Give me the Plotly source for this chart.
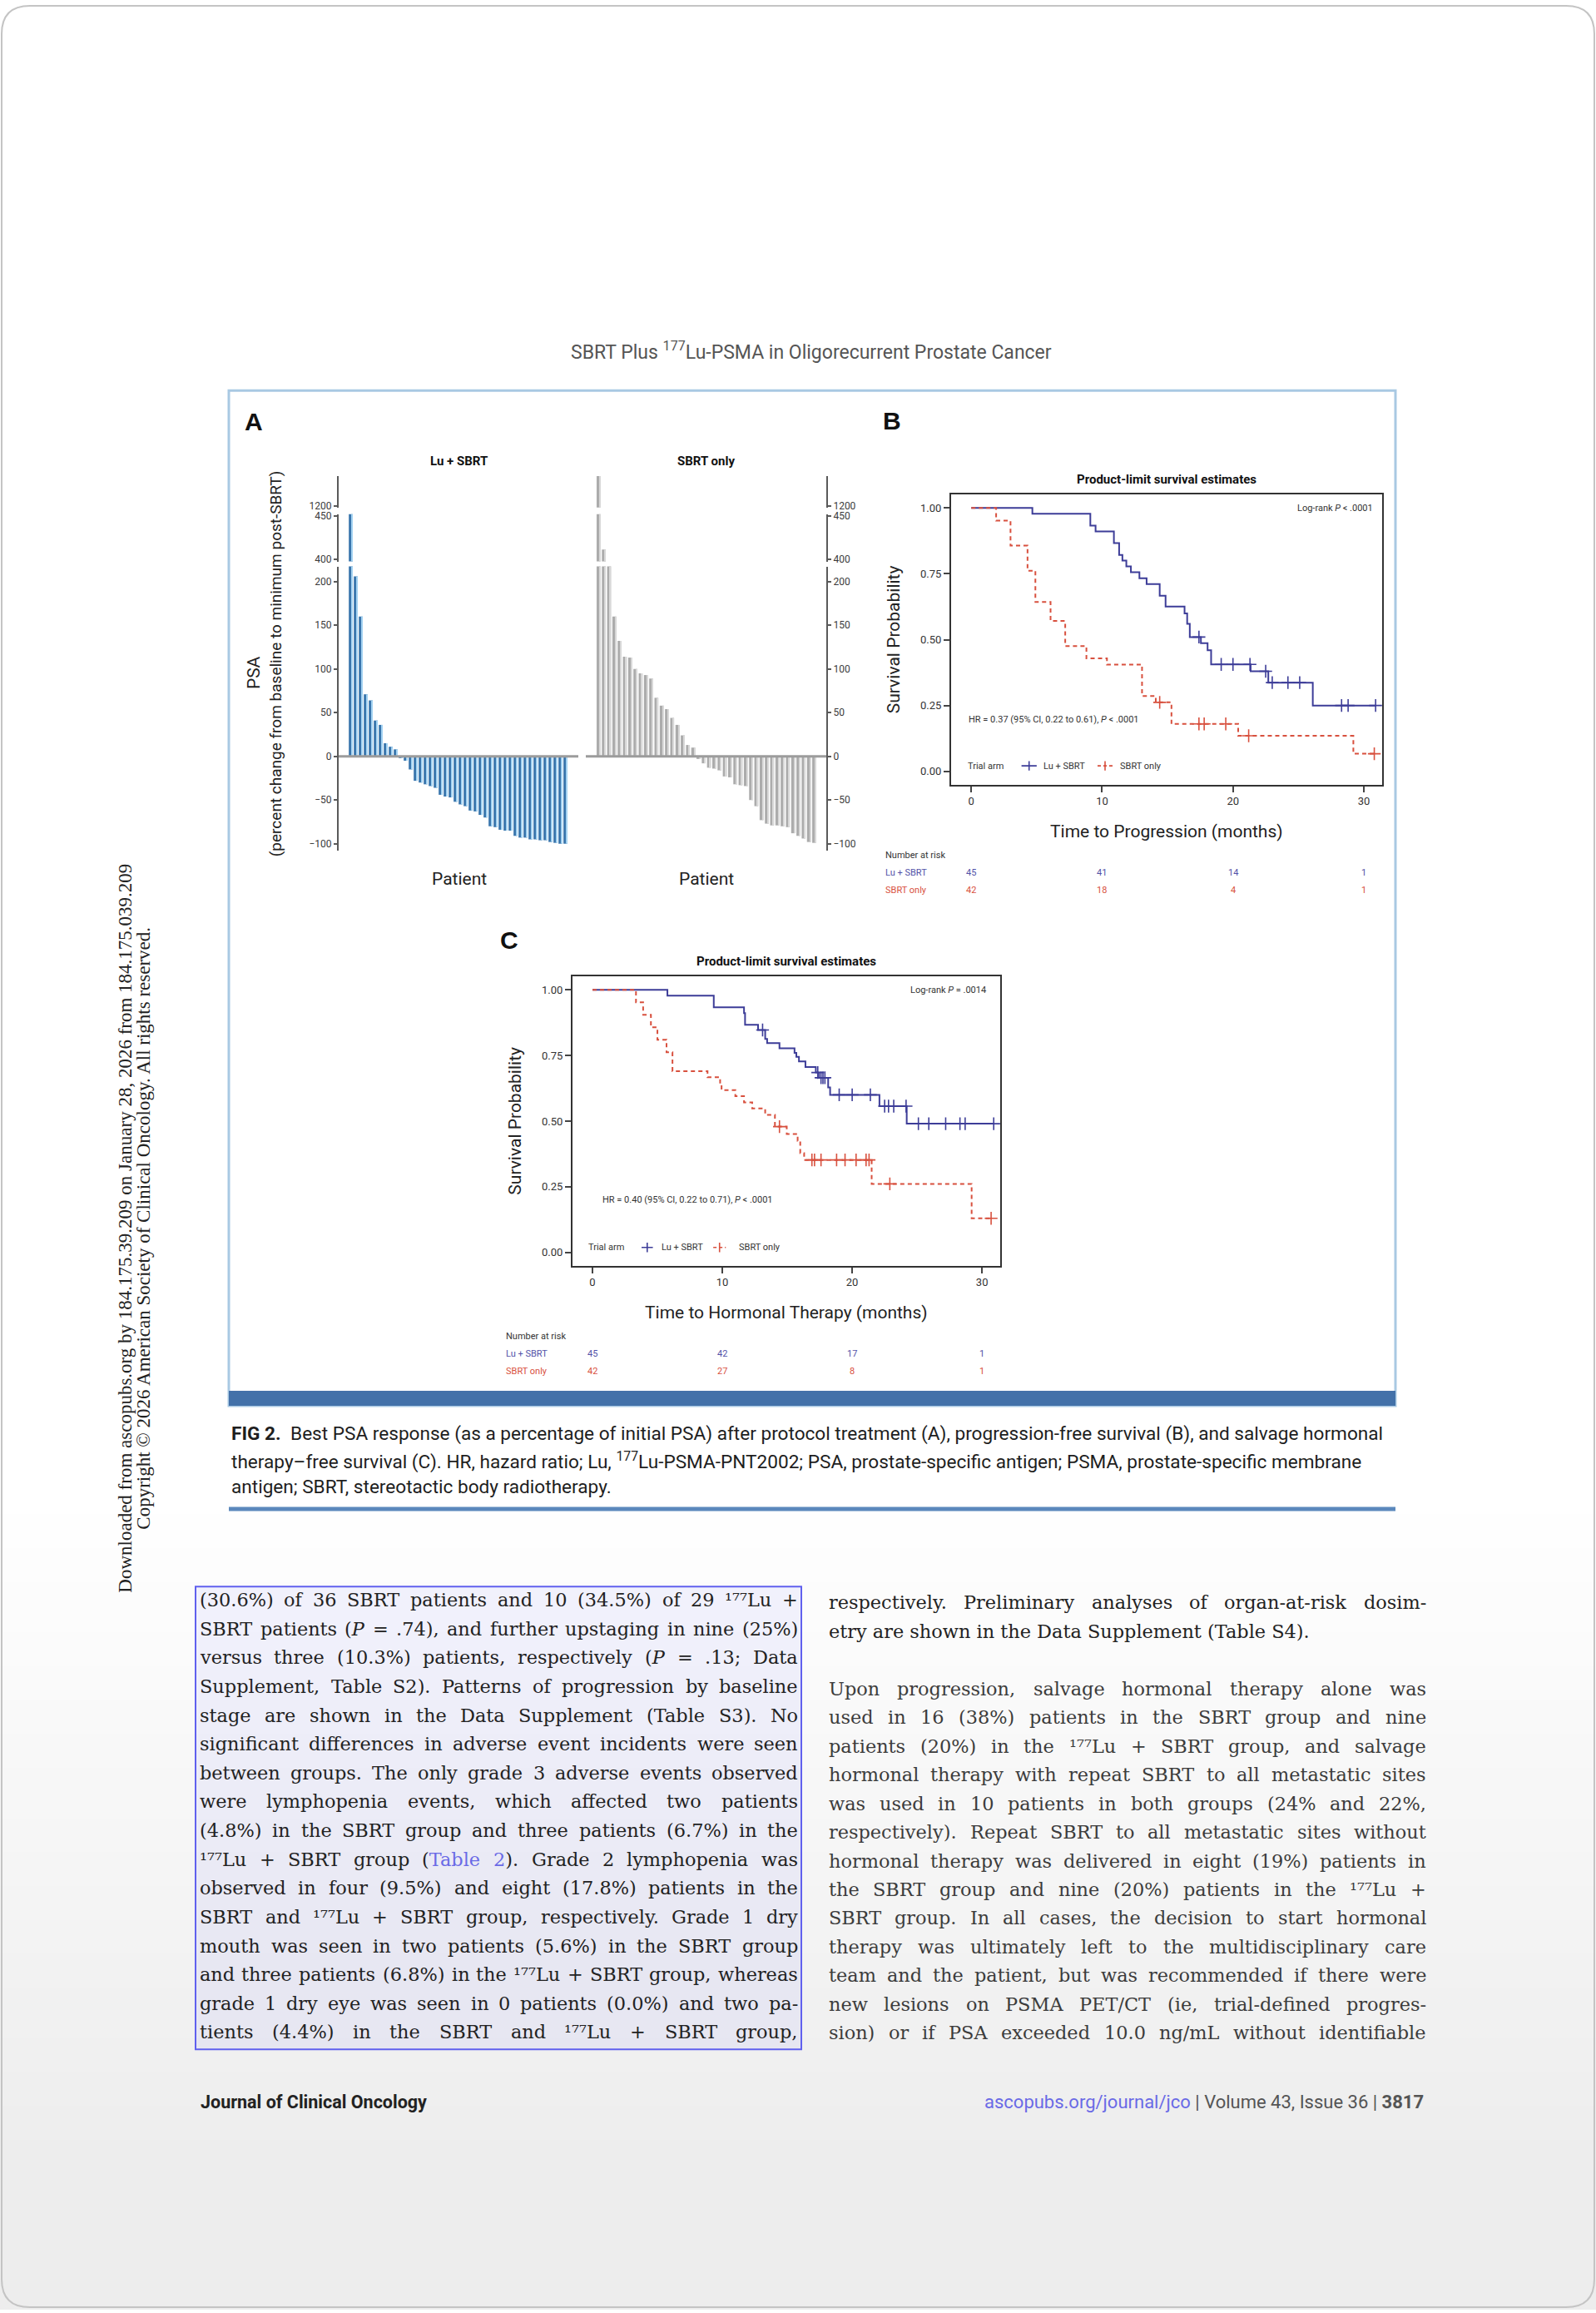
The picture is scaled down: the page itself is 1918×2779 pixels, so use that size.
import re
import glob
import plotly.graph_objects as go

W, H = 1918, 2779


def X(px):
    return px / W


def Y(py):
    return 1 - py / H


# ---------------- DATA ----------------
# Panel A: best PSA response (% change), waterfall order
lu_psa = [455, 206, 160, 71, 64, 41, 36, 15, 11, 8, -2, -5, -15, -28, -30, -32, -34, -36,
          -44, -46, -47, -52, -55, -57, -62, -63, -67, -70, -80, -81, -84, -85, -85, -91,
          -93, -93, -95, -95, -96, -96, -98, -99, -100, -100]
sbrt_psa = [1250, 411, 300, 160, 132, 114, 113, 100, 95, 93, 89, 67, 58, 54, 44, 36, 24, 13,
            10, -3, -8, -13, -14, -16, -23, -24, -32, -33, -34, -50, -57, -73, -77, -79, -79,
            -80, -81, -88, -91, -94, -98, -99]
psa_ticks_low = [-100, -50, 0, 50, 100, 150, 200]
psa_ticks_mid = [400, 450]
psa_ticks_top = [1200]

# Panel B: progression-free survival
b_lu_t = [0, 4.67, 9.1, 9.5, 10.9, 11.3, 11.55, 11.85, 12.2, 12.85, 13.4, 14.4, 14.85, 16.3,
          16.5, 16.7, 17.55, 18.06, 18.33, 21.35, 22.7, 26.1, 30.9]
b_lu_s = [1.0, 0.978, 0.933, 0.911, 0.867, 0.822, 0.80, 0.778, 0.756, 0.733, 0.711, 0.667,
          0.626, 0.60, 0.56, 0.51, 0.487, 0.46, 0.406, 0.38, 0.337, 0.25, 0.25]
b_lu_cens_t = [17.4, 19.1, 20.0, 21.3, 22.5, 23.0, 24.2, 25.1, 28.3, 28.8, 30.9]
b_lu_cens_s = [0.51, 0.406, 0.406, 0.406, 0.38, 0.337, 0.337, 0.337, 0.25, 0.25, 0.25]
b_sb_t = [0, 1.9, 3.0, 4.3, 4.9, 6.06, 7.18, 8.8, 10.37, 13.05, 14.1, 15.3, 20.4, 29.2, 30.8]
b_sb_s = [1.0, 0.952, 0.857, 0.762, 0.643, 0.571, 0.476, 0.429, 0.405, 0.286, 0.262, 0.18,
          0.135, 0.067, 0.067]
b_sb_cens_t = [14.4, 17.4, 17.8, 19.45, 21.2, 30.8]
b_sb_cens_s = [0.262, 0.18, 0.18, 0.18, 0.135, 0.067]

# Panel C: salvage hormonal therapy-free survival
c_lu_t = [0, 5.77, 9.34, 11.67, 11.75, 12.75, 13.3, 13.45, 14.4, 15.56, 15.7, 15.9, 16.4,
          17.2, 17.45, 18.15, 18.3, 22.1, 24.2, 30.9]
c_lu_s = [1.0, 0.978, 0.933, 0.911, 0.867, 0.847, 0.813, 0.797, 0.777, 0.76, 0.745, 0.727,
          0.706, 0.685, 0.665, 0.628, 0.60, 0.557, 0.49, 0.49]
c_lu_cens_t = [13.1, 17.35, 17.6, 17.75, 17.9, 19.0, 20.0, 21.4, 22.5, 22.8, 23.2, 24.15,
               25.1, 25.9, 27.2, 28.3, 28.7, 30.9]
c_lu_cens_s = [0.847, 0.685, 0.665, 0.665, 0.665, 0.60, 0.60, 0.60, 0.557, 0.557, 0.557,
               0.557, 0.49, 0.49, 0.49, 0.49, 0.49, 0.49]
c_sb_t = [0, 3.35, 3.9, 4.5, 5.0, 5.7, 6.16, 8.86, 9.83, 9.94, 11.0, 11.67, 12.3, 13.3,
          14.05, 14.96, 15.8, 16.0, 16.3, 21.5, 29.2, 30.7]
c_sb_s = [1.0, 0.952, 0.905, 0.857, 0.81, 0.762, 0.69, 0.667, 0.643, 0.618, 0.595, 0.571,
          0.548, 0.524, 0.479, 0.451, 0.425, 0.378, 0.352, 0.261, 0.13, 0.13]
c_sb_cens_t = [14.4, 16.9, 17.1, 17.6, 18.8, 19.45, 20.3, 21.07, 21.3, 22.9, 30.7]
c_sb_cens_s = [0.479, 0.352, 0.352, 0.352, 0.352, 0.352, 0.352, 0.352, 0.352, 0.261, 0.13]

risk_times = [0, 10, 20, 30]
b_risk_lu = [45, 41, 14, 1]
b_risk_sb = [42, 18, 4, 1]
c_risk_lu = [45, 42, 17, 1]
c_risk_sb = [42, 27, 8, 1]
km_xticks = [0, 10, 20, 30]
km_yticks = [0, 0.25, 0.5, 0.75, 1.0]

# Body text
left_col = [
    "(30.6%) of 36 SBRT patients and 10 (34.5%) of 29 \u00b9\u2077\u2077Lu +",
    "SBRT patients (_P_ = .74), and further upstaging in nine (25%)",
    "versus three (10.3%) patients, respectively (_P_ = .13; Data",
    "Supplement, Table S2). Patterns of progression by baseline",
    "stage are shown in the Data Supplement (Table S3). No",
    "significant differences in adverse event incidents were seen",
    "between groups. The only grade 3 adverse events observed",
    "were lymphopenia events, which affected two patients",
    "(4.8%) in the SBRT group and three patients (6.7%) in the",
    "\u00b9\u2077\u2077Lu + SBRT group ({Table} {2}). Grade 2 lymphopenia was",
    "observed in four (9.5%) and eight (17.8%) patients in the",
    "SBRT and \u00b9\u2077\u2077Lu + SBRT group, respectively. Grade 1 dry",
    "mouth was seen in two patients (5.6%) in the SBRT group",
    "and three patients (6.8%) in the \u00b9\u2077\u2077Lu + SBRT group, whereas",
    "grade 1 dry eye was seen in 0 patients (0.0%) and two pa-",
    "tients (4.4%) in the SBRT and \u00b9\u2077\u2077Lu + SBRT group,",
]
right_col_p1 = [
    "respectively. Preliminary analyses of organ-at-risk dosim-",
    "etry are shown in the Data Supplement (Table S4).",
]
right_col_p2 = [
    "Upon progression, salvage hormonal therapy alone was",
    "used in 16 (38%) patients in the SBRT group and nine",
    "patients (20%) in the \u00b9\u2077\u2077Lu + SBRT group, and salvage",
    "hormonal therapy with repeat SBRT to all metastatic sites",
    "was used in 10 patients in both groups (24% and 22%,",
    "respectively). Repeat SBRT to all metastatic sites without",
    "hormonal therapy was delivered in eight (19%) patients in",
    "the SBRT group and nine (20%) patients in the \u00b9\u2077\u2077Lu +",
    "SBRT group. In all cases, the decision to start hormonal",
    "therapy was ultimately left to the multidisciplinary care",
    "team and the patient, but was recommended if there were",
    "new lesions on PSMA PET/CT (ie, trial-defined progres-",
    "sion) or if PSA exceeded 10.0 ng/mL without identifiable",
]
caption_lines = [
    "<b>FIG 2.</b>\u2002Best PSA response (as a percentage of initial PSA) after protocol treatment (A), "
    "progression-free survival (B), and salvage hormonal",
    "therapy\u2013free survival (C). HR, hazard ratio; Lu, <sup>177</sup>Lu-PSMA-PNT2002; PSA, "
    "prostate-specific antigen; PSMA, prostate-specific membrane",
    "antigen; SBRT, stereotactic body radiotherapy.",
]

# ---------------- STYLE ----------------
SANS = "Roboto, 'Liberation Sans', Arial, sans-serif"
ARIAL = "'Liberation Sans', Arial, Roboto, sans-serif"
SERIF_BODY = "'DejaVu Serif', serif"
SERIF_SIDE = "'Liberation Serif', 'Times New Roman', serif"
BLUE_DARK = '#3a76ad'
BLUE_LIGHT = '#a4d3f2'
GRAY_BAR = '#acacac'
GRAY_LIGHT = '#d8d8d8'
KM_BLUE = '#3d3d98'
KM_RED = '#d8503e'
RISK_BLUE = '#5252a8'
LINK = '#6a6ae6'

fig = go.Figure()
shapes = []
anns = []


def T(x, y, text, size, color='#222', family=SANS, xanchor='center', yanchor='middle',
      angle=0, xref='paper', yref='paper'):
    if xref == 'paper':
        x = X(x)
    if yref == 'paper':
        y = Y(y)
    anns.append(dict(x=x, y=y, xref=xref, yref=yref, text=text, showarrow=False,
                     xanchor=xanchor, yanchor=yanchor, textangle=angle,
                     font=dict(family=family, size=size, color=color)))


def R(x0, y0, x1, y1, fill=None, line=None, lw=0, layer='below'):
    shapes.append(dict(type='rect', xref='paper', yref='paper', x0=X(x0), x1=X(x1),
                       y0=Y(y0), y1=Y(y1), fillcolor=fill or 'rgba(0,0,0,0)',
                       line=dict(color=line or 'rgba(0,0,0,0)', width=lw), layer=layer))


# ---------------- PAGE BACKGROUND ----------------
g_start, g_full = 1800, 2600
nb = 48
for k in range(nb):
    y0 = g_start + (H - g_start) * k / nb
    y1 = g_start + (H - g_start) * (k + 1) / nb
    f = min(1.0, ((y0 + y1) / 2 - g_start) / (g_full - g_start))
    c = int(round(255 - 18 * f))
    R(0, y0, W, y1 + 1, fill=f'rgb({c},{c},{c})')

# rounded page border
r = 34
x0p, y0p, x1p, y1p = 2, 2, W - 2, H - 2
path = (f"M {X(x0p + r)},{Y(y0p)} L {X(x1p - r)},{Y(y0p)} Q {X(x1p)},{Y(y0p)} {X(x1p)},{Y(y0p + r)} "
        f"L {X(x1p)},{Y(y1p - r)} Q {X(x1p)},{Y(y1p)} {X(x1p - r)},{Y(y1p)} "
        f"L {X(x0p + r)},{Y(y1p)} Q {X(x0p)},{Y(y1p)} {X(x0p)},{Y(y1p - r)} "
        f"L {X(x0p)},{Y(y0p + r)} Q {X(x0p)},{Y(y0p)} {X(x0p + r)},{Y(y0p)} Z")
shapes.append(dict(type='path', path=path, xref='paper', yref='paper',
                   line=dict(color='#c4c4c4', width=2), layer='above'))

# header
T(975, 418, "SBRT Plus <sup>177</sup>Lu-PSMA in Oligorecurrent Prostate Cancer", 23, color='#555')

# figure box
R(275, 466, 1677, 1690, fill='white', line='#a9c9e3', lw=3)
R(275, 1672, 1677, 1690, fill='#4371a9')
# caption
cap_y = [1724, 1756, 1788]
for yy, line in zip(cap_y, caption_lines):
    T(276, yy, line, 22.6, color='#1e1e1e', xanchor='left')
R(275, 1812, 1677, 1817, fill='#5b88bc')

# side text
T(151, 1476, "Downloaded from ascopubs.org by 184.175.39.209 on January 28, 2026 from 184.175.039.209",
  23, color='#222', family=SERIF_SIDE, angle=-90)
T(173, 1476, "Copyright \u00a9 2026 American Society of Clinical Oncology. All rights reserved.",
  23, color='#222', family=SERIF_SIDE, angle=-90)

# footer
T(239, 2530, "<b>Journal of Clinical Oncology</b>", 21.5, color='#222', xanchor='left')
T(1713, 2530, f"<span style='color:{LINK}'>ascopubs.org/journal/jco</span> | Volume 43, Issue 36 | <b>3817</b>",
  22, color='#555', xanchor='right')

# ---------------- BODY TEXT ----------------
font_meas = None
try:
    from PIL import ImageFont
    cands = glob.glob('/usr/share/fonts/**/DejaVuSerif.ttf', recursive=True)
    if cands:
        font_meas = ImageFont.truetype(cands[0], 100)
except Exception:
    font_meas = None


def plain(s):
    return s.replace('{', '').replace('}', '').replace('_', '')


def html(s):
    s = re.sub(r'\{([^}]*)\}', lambda m: f"<span style='color:{LINK}'>{m.group(1)}</span>", s)
    s = re.sub(r'_([^_]*)_', r'<i>\1</i>', s)
    return s


def width_at(s, size):
    return font_meas.getlength(plain(s)) * size / 100.0


col_l = (238, 957)
col_r = (994, 1712)
all_lines = left_col + right_col_p1 + right_col_p2
body_size = 20.5
if font_meas is not None:
    ratio = min((col_l[1] - col_l[0]) / width_at(s, 1.0) for s in all_lines)
    body_size = min(22.5, 0.985 * ratio)


def body_line(line, x0, x1, y, justify, color):
    words = line.split(' ')
    if font_meas is None or not justify or len(words) < 2:
        T(x0, y, html(line), body_size, color=color, family=SERIF_BODY, xanchor='left')
        return
    widths = [width_at(w, body_size) for w in words]
    gap = (x1 - x0 - sum(widths)) / (len(words) - 1)
    pos = x0
    for w, wd in zip(words, widths):
        T(pos, y, html(w), body_size, color=color, family=SERIF_BODY, xanchor='left')
        pos += wd + gap


R(235, 1908, 963, 2466, fill='rgba(105,105,250,0.07)', line='#6060ee', lw=2)
pitch = 34.75
for i, line in enumerate(left_col):
    body_line(line, col_l[0], col_l[1], 1924 + pitch * i, True, '#222')
for i, line in enumerate(right_col_p1):
    body_line(line, col_r[0], col_r[1], 1927 + pitch * i, i < len(right_col_p1) - 1, '#222')
for i, line in enumerate(right_col_p2):
    body_line(line, col_r[0], col_r[1], 2031 + 34.6 * i, True, '#3c3c3c')

# ---------------- PANEL A ----------------
lu_x = list(range(len(lu_psa)))
sb_x = list(range(len(sbrt_psa)))
for ya in ['y', 'y2', 'y3']:
    fig.add_bar(x=lu_x, y=lu_psa, xaxis='x', yaxis=ya, width=0.78, offset=-0.39,
                marker=dict(color=BLUE_DARK, line_width=0), showlegend=False, hoverinfo='skip')
    fig.add_bar(x=lu_x, y=lu_psa, xaxis='x', yaxis=ya, width=0.22, offset=0.14,
                marker=dict(color=BLUE_LIGHT, line_width=0), showlegend=False, hoverinfo='skip')
for ya in ['y4', 'y5', 'y6']:
    fig.add_bar(x=sb_x, y=sbrt_psa, xaxis='x2', yaxis=ya, width=0.74, offset=-0.37,
                marker=dict(color=GRAY_BAR, line_width=0), showlegend=False, hoverinfo='skip')
    fig.add_bar(x=sb_x, y=sbrt_psa, xaxis='x2', yaxis=ya, width=0.2, offset=0.15,
                marker=dict(color=GRAY_LIGHT, line_width=0), showlegend=False, hoverinfo='skip')

# zero lines
shapes.append(dict(type='line', xref='paper', yref='y', x0=X(407), x1=X(695), y0=0, y1=0,
                   line=dict(color='#9c9c9c', width=3), layer='above'))
shapes.append(dict(type='line', xref='paper', yref='y4', x0=X(704), x1=X(993), y0=0, y1=0,
                   line=dict(color='#9c9c9c', width=3), layer='above'))

seg_common = dict(showgrid=False, zeroline=False, showline=True, linecolor='#5a5a5a', linewidth=2,
                  ticks='outside', ticklen=4, tickcolor='#5a5a5a', tickwidth=1.5,
                  tickfont=dict(family=SANS, size=12, color='#3a3a3a'), fixedrange=True)
seg_low = dict(domain=[Y(1021), Y(678)], range=[-108.2, 217.3], tickvals=psa_ticks_low)
seg_mid = dict(domain=[Y(672), Y(615)], range=[397.2, 451.9], tickvals=psa_ticks_mid)
seg_top = dict(domain=[Y(607), Y(569)], range=[1198, 1234], tickvals=psa_ticks_top)

layout_axes = {}
layout_axes['xaxis'] = dict(domain=[X(407), X(697)], range=[-2.417, 45.92], visible=False,
                            anchor='y', fixedrange=True)
layout_axes['xaxis2'] = dict(domain=[X(703), X(993)], range=[-2.58, 43.31], visible=False,
                             anchor='y4', fixedrange=True)
layout_axes['yaxis'] = dict(anchor='x', side='left', **seg_low, **seg_common)
layout_axes['yaxis2'] = dict(anchor='x', side='left', **seg_mid, **seg_common)
layout_axes['yaxis3'] = dict(anchor='x', side='left', **seg_top, **seg_common)
layout_axes['yaxis4'] = dict(anchor='x2', side='right', **seg_low, **seg_common)
layout_axes['yaxis5'] = dict(anchor='x2', side='right', **seg_mid, **seg_common)
layout_axes['yaxis6'] = dict(anchor='x2', side='right', **seg_top, **seg_common)

T(305, 503, "<b>A</b>", 30, color='#111', family=ARIAL)
T(551, 551, "<b>Lu + SBRT</b>", 15, color='#111')
T(848, 551, "<b>SBRT only</b>", 15, color='#111')
T(305, 806, "PSA", 21, color='#222', angle=-90)
T(331, 796, "(percent change from baseline to minimum post-SBRT)", 19, color='#222', angle=-90)
T(552, 1055, "Patient", 21, color='#222')
T(849, 1055, "Patient", 21, color='#222')

# ---------------- KM PANELS ----------------
km_x_common = dict(showgrid=False, zeroline=False, showline=True, mirror=True, linecolor='#333',
                   linewidth=2, ticks='outside', ticklen=7, tickcolor='#444', tickwidth=1.5,
                   tickvals=km_xticks, tickfont=dict(family=SANS, size=13, color='#333'),
                   range=[-1.54, 31.4], fixedrange=True)
km_y_common = dict(showgrid=False, zeroline=False, showline=True, mirror=True, linecolor='#333',
                   linewidth=2, ticks='outside', ticklen=7, tickcolor='#444', tickwidth=1.5,
                   tickvals=km_yticks, tickformat='.2f',
                   tickfont=dict(family=SANS, size=13, color='#333'),
                   range=[-0.05, 1.052], fixedrange=True)

panels = {
    'B': dict(xa='x3', ya='y7', box=(1143, 591, 1661, 941),
              lu=(b_lu_t, b_lu_s, b_lu_cens_t, b_lu_cens_s),
              sb=(b_sb_t, b_sb_s, b_sb_cens_t, b_sb_cens_s),
              risk=(b_risk_lu, b_risk_sb), xtitle="Time to Progression (months)",
              logrank="Log-rank <i>P</i> &lt; .0001",
              hr="HR = 0.37 (95% CI, 0.22 to 0.61), <i>P</i> &lt; .0001",
              letter=(1072, 502), ytitle_x=1074, risk_label_x=1062,
              logrank_pos=(30.84, 0.998), hr_pos=(-0.34, 0.198),
              leg=dict(y=0.021, trial=-0.39, lu_line=(3.84, 5.0), lu_txt=5.4,
                       sb_line=(9.65, 10.8), sb_txt=11.27)),
    'C': dict(xa='x4', ya='y8', box=(688, 1172, 1202, 1521),
              lu=(c_lu_t, c_lu_s, c_lu_cens_t, c_lu_cens_s),
              sb=(c_sb_t, c_sb_s, c_sb_cens_t, c_sb_cens_s),
              risk=(c_risk_lu, c_risk_sb), xtitle="Time to Hormonal Therapy (months)",
              logrank="Log-rank <i>P</i> = .0014",
              hr="HR = 0.40 (95% CI, 0.22 to 0.71), <i>P</i> &lt; .0001",
              letter=(612, 1129), ytitle_x=619, risk_label_x=606,
              logrank_pos=(30.47, 1.0), hr_pos=(0.65, 0.201),
              leg=dict(y=0.019, trial=-0.43, lu_line=(3.78, 4.65), lu_txt=5.19,
                       sb_line=(9.3, 10.27), sb_txt=11.13)),
}

for key, p in panels.items():
    xa, ya = p['xa'], p['ya']
    bx0, by0, bx1, by1 = p['box']
    xnum, ynum = xa[1:], ya[1:]
    layout_axes['xaxis' + xnum] = dict(domain=[X(bx0), X(bx1)], anchor=ya, **km_x_common)
    layout_axes['yaxis' + ynum] = dict(domain=[Y(by1), Y(by0)], anchor=xa, **km_y_common)

    for (t, s, ct, cs), color, dash in [(p['lu'], KM_BLUE, 'solid'), (p['sb'], KM_RED, '5px,4px')]:
        fig.add_scatter(x=t, y=s, mode='lines', xaxis=xa, yaxis=ya,
                        line=dict(shape='hv', color=color, width=2, dash=dash),
                        showlegend=False, hoverinfo='skip')
        fig.add_scatter(x=ct, y=cs, mode='markers', xaxis=xa, yaxis=ya,
                        marker=dict(symbol='cross-thin', size=11,
                                    line=dict(width=1.6, color=color)),
                        showlegend=False, hoverinfo='skip')

    cx = (bx0 + bx1) / 2
    T(p['letter'][0], p['letter'][1], f"<b>{key}</b>", 30, color='#111', family=ARIAL)
    T(cx, by0 - 18, "<b>Product-limit survival estimates</b>", 15, color='#111')
    T(cx, by1 + 57, p['xtitle'], 21, color='#222')
    T(p['ytitle_x'], (by0 + by1) / 2, "Survival Probability", 21, color='#222', angle=-90)
    T(p['logrank_pos'][0], p['logrank_pos'][1], p['logrank'], 11, color='#333',
      xanchor='right', xref=xa, yref=ya)
    T(p['hr_pos'][0], p['hr_pos'][1], p['hr'], 11, color='#333', xanchor='left', xref=xa, yref=ya)

    lg = p['leg']
    T(lg['trial'], lg['y'], "Trial arm", 11, color='#333', xanchor='left', xref=xa, yref=ya)
    for (l0, l1), tx, name, color, dash in [(lg['lu_line'], lg['lu_txt'], "Lu + SBRT", KM_BLUE, 'solid'),
                                            (lg['sb_line'], lg['sb_txt'], "SBRT only", KM_RED, '4px,3px')]:
        shapes.append(dict(type='line', xref=xa, yref=ya, x0=l0, x1=l1, y0=lg['y'], y1=lg['y'],
                           line=dict(color=color, width=1.6, dash=dash), layer='above'))
        mid = (l0 + l1) / 2
        shapes.append(dict(type='line', xref=xa, yref=ya, x0=mid, x1=mid, y0=lg['y'] - 0.018,
                           y1=lg['y'] + 0.018, line=dict(color=color, width=1.6), layer='above'))
        T(tx, lg['y'], name, 11, color='#333', xanchor='left', xref=xa, yref=ya)

    # number at risk
    rl = p['risk_label_x']
    T(rl, by1 + 85, "Number at risk", 11, color='#333', xanchor='left')
    T(rl, by1 + 106, "Lu + SBRT", 11, color=RISK_BLUE, xanchor='left')
    T(rl, by1 + 127, "SBRT only", 11, color=KM_RED, xanchor='left')
    for tt, n1, n2 in zip(risk_times, p['risk'][0], p['risk'][1]):
        T(tt, by1 + 106, str(n1), 11, color=RISK_BLUE, xref=xa)
        T(tt, by1 + 127, str(n2), 11, color=KM_RED, xref=xa)

fig.update_layout(
    width=W, height=H, margin=dict(l=0, r=0, t=0, b=0),
    paper_bgcolor='white', plot_bgcolor='rgba(0,0,0,0)',
    barmode='overlay', showlegend=False,
    shapes=shapes, annotations=anns, **layout_axes,
)

fig.write_html("out.html", config={'displayModeBar': False},
               post_script="document.body.style.margin='0';document.body.style.overflow='hidden';")
